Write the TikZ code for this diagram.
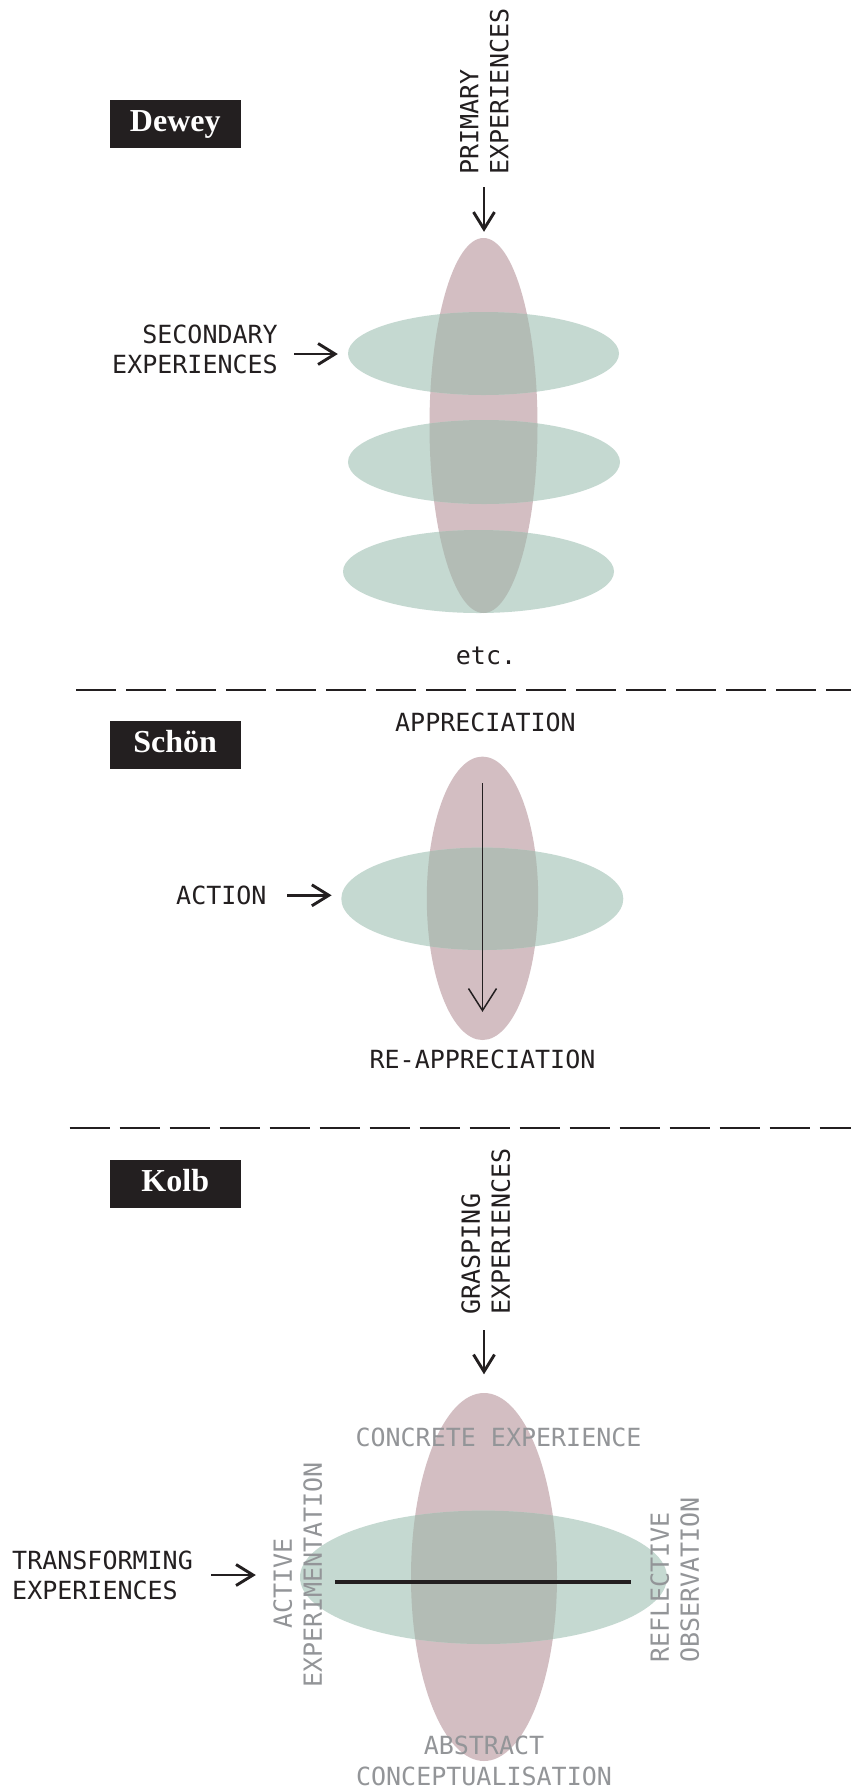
\documentclass[tikz,border=0pt]{standalone}
\usepackage{fontspec}
\setmonofont{DejaVu Sans Mono}
\newfontfamily\titlefamily{Liberation Serif}
\usetikzlibrary{shapes.geometric,arrows.meta,calc}

\definecolor{ink}{HTML}{231F20}
\definecolor{grayink}{HTML}{939598}
\definecolor{rosefill}{HTML}{D3BEC2}
\definecolor{sagefill}{HTML}{C5D9D1}
\definecolor{blendfill}{HTML}{B3BCB5}

\tikzset{
  titlebox/.style={fill=ink, text=white, inner sep=0pt,
    minimum width=131.5pt, minimum height=47.5pt,
    text height=22pt, text depth=6pt,
    font=\titlefamily\bfseries\fontsize{32pt}{36pt}\selectfont},
  lbl/.style={font=\ttfamily\fontsize{25pt}{30pt}\selectfont, text=ink, inner sep=0pt},
  glbl/.style={lbl, text=grayink},
  blob/.style={ellipse, draw=none, inner sep=0pt},
  arr/.style={draw=ink, line width=2.9pt, -{Straight Barb[length=17pt,width=21pt]}},
  thinarr/.style={draw=ink, line width=1.5pt, -{Straight Barb[length=22pt,width=28pt]}},
  axisline/.style={draw=ink, line width=3.2pt},
  divider/.style={draw=ink, line width=1.5pt, dash pattern=on 40pt off 10pt},
}

% a rose ellipse crossed by a sage ellipse, with their common part tinted
\newcommand{\lensfill}[6]{%
  \begin{scope}
    \clip (#1.center) ellipse [x radius=#3, y radius=#4];
    \fill[blendfill] (#2.center) ellipse [x radius=#5, y radius=#6];
  \end{scope}}

\begin{document}
\begin{tikzpicture}[x=1pt, y=-1pt]
\fill[white] (0,0) rectangle (851,1789);
\useasboundingbox (0,0) rectangle (851,1789);

% ---------------- Dewey ----------------
\node[titlebox] (tdewey) at (175.25,123.75) {Dewey};

\node[blob, fill=rosefill, minimum width=108pt, minimum height=375pt] (dp) at (483.5,425.5) {};
\node[blob, fill=sagefill, minimum width=271pt, minimum height=83pt] (dg1) at (483.5,353.5) {};
\node[blob, fill=sagefill, minimum width=272pt, minimum height=84pt] (dg2) at (484,462) {};
\node[blob, fill=sagefill, minimum width=271pt, minimum height=83pt] (dg3) at (478.5,571.5) {};
\lensfill{dp}{dg1}{54pt}{187.5pt}{135.5pt}{41.5pt}
\lensfill{dp}{dg2}{54pt}{187.5pt}{136pt}{42pt}
\lensfill{dp}{dg3}{54pt}{187.5pt}{135.5pt}{41.5pt}

\node[lbl, align=left, rotate=90, anchor=north west] (prim) at (460,174.5) {PRIMARY\\EXPERIENCES};
\coordinate (pa) at (484,187);
\draw[arr, shorten >=6pt] (pa) -- (pa |- dp.north);

\node[lbl, align=right, anchor=north east] (sec) at (278,325) {SECONDARY\\EXPERIENCES};
\coordinate (sa) at (294,354);
\draw[arr, shorten >=10pt] (sa) -- (sa -| dg1.west);

\node[lbl, anchor=base] (etc) at (486,664) {etc.};

\coordinate (d1a) at (76,690);
\coordinate (d1b) at (851,690);
\draw[divider] (d1a) -- (d1b);

% ---------------- Schön ----------------
\node[titlebox] (tschon) at (175.25,744.75) {Schön};

\node[blob, fill=rosefill, minimum width=111.4pt, minimum height=283.4pt] (sp) at (482.5,898.3) {};
\node[blob, fill=sagefill, minimum width=282pt, minimum height=102.4pt] (sg) at (482.3,898.8) {};
\lensfill{sp}{sg}{55.7pt}{141.7pt}{141pt}{51.2pt}

\node[lbl, anchor=base] (appr) at (485.5,731.7) {APPRECIATION};
\node[lbl, anchor=base] (reappr) at (482.5,1068.3) {RE-APPRECIATION};
\draw[thinarr, shorten <=26.7pt, shorten >=28.3pt] (sp.north) -- (sp.south);

\node[lbl, anchor=base west] (act) at (176,904.3) {ACTION};
\coordinate (aa) at (287.3,895.3);
\draw[arr, shorten >=9.5pt] (aa) -- (aa -| sg.west);

\coordinate (d2a) at (69.5,1128);
\coordinate (d2b) at (851,1128);
\draw[divider] (d2a) -- (d2b);

% ---------------- Kolb ----------------
\node[titlebox] (tkolb) at (175.25,1183.75) {Kolb};

\node[blob, fill=rosefill, minimum width=146pt, minimum height=368pt] (kp) at (484,1577) {};
\node[blob, fill=sagefill, minimum width=367pt, minimum height=133.4pt] (kg) at (483.5,1577.3) {};
\lensfill{kp}{kg}{73pt}{184pt}{183.5pt}{66.7pt}

\node[lbl, align=left, rotate=90, anchor=north west] (grasp) at (461,1314.5) {GRASPING\\EXPERIENCES};
\coordinate (ga) at (484,1330);
\draw[arr, shorten >=18.5pt] (ga) -- (ga |- kp.north);

\node[lbl, align=left, anchor=north west] (trans) at (12,1550.7) {TRANSFORMING\\EXPERIENCES};
\coordinate (ta) at (211,1575);
\draw[arr, shorten >=44pt] (ta) -- (ta -| kg.west);

\coordinate (kl) at (335,1582);
\coordinate (kr) at (630.7,1582);
\draw[axisline] (kl) -- (kr);

\node[glbl, anchor=base] (conc) at (498.5,1446) {CONCRETE EXPERIENCE};
\node[glbl, align=center, rotate=90, anchor=north] (actexp) at (273,1575) {ACTIVE\rule{17pt}{0pt}\\EXPERIMENTATION};
\node[glbl, align=left, rotate=90, anchor=north west] (refl) at (650,1663) {REFLECTIVE\\OBSERVATION};
\node[glbl, align=center, anchor=north, font=\ttfamily\fontsize{25pt}{31pt}\selectfont] (abst) at (484,1736) {ABSTRACT\\CONCEPTUALISATION};

\end{tikzpicture}
\end{document}
